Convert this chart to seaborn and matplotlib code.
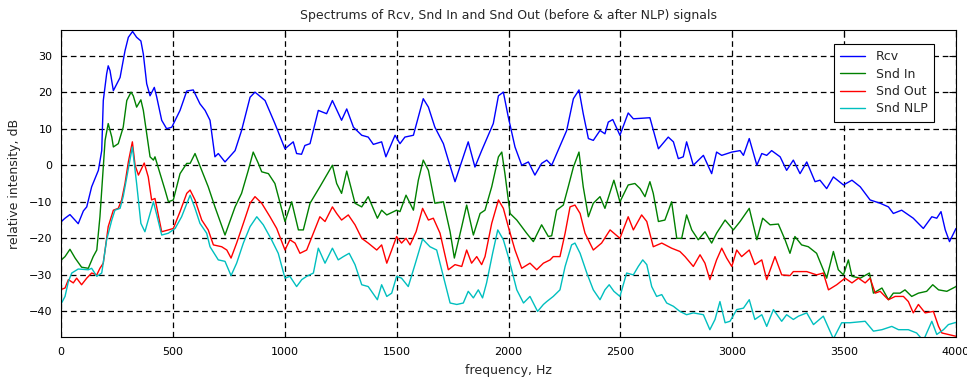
import numpy as np
import pandas as pd
import matplotlib
matplotlib.use("Agg")
import matplotlib.pyplot as plt
import seaborn as sns

# ---- spectra (frequency in Hz, level in dB) ----
rcv_freq = [0, 18, 40, 77, 100, 115, 137, 167, 182, 189, 204, 211, 219, 234, 264, 286, 301, 320, 338, 357,
            368, 383, 398, 417, 428, 450, 472, 495, 532, 562, 591, 621, 644, 666, 688, 703, 733, 778, 807, 845,
            867, 912, 956, 1001, 1038, 1053, 1075, 1090, 1113, 1150, 1187, 1213, 1254, 1277, 1307, 1344, 1373,
            1396, 1433, 1452, 1493, 1515, 1537, 1575, 1619, 1642, 1671, 1709, 1731, 1761, 1798, 1820, 1850, 1880,
            1932, 1955, 1977, 1999, 2029, 2059, 2089, 2118, 2148, 2171, 2193, 2260, 2290, 2315, 2334, 2357, 2379,
            2409, 2431, 2446, 2466, 2498, 2535, 2558, 2632, 2670, 2714, 2737, 2759, 2781, 2796, 2826, 2871, 2908,
            2930, 2953, 2998, 3035, 3050, 3076, 3110, 3132, 3154, 3176, 3214, 3243, 3273, 3303, 3333, 3370, 3392,
            3422, 3452, 3497, 3535, 3572, 3616, 3661, 3698, 3720, 3757, 3809, 3854, 3892, 3914, 3933, 3952, 3971,
            4000]
rcv_db = [-15.5, -14.5, -13.5, -16, -12.5, -11.4, -5.9, -1.4, 4, 17.7, 25, 27.2, 25.9, 20.4, 24, 31.3, 35, 36.6,
          35, 34, 30.4, 22.3, 19, 21.3, 18.6, 12.3, 10, 10.4, 15, 20.3, 20.6, 16.8, 15, 12.3, 2.3, 3.2, 0.9, 4,
          9.5, 18.6, 20, 17.7, 11.4, 4.5, 6.4, 3.2, 3, 5.4, 5.9, 15, 14.1, 17.7, 12.3, 15.4, 10.4, 8.2, 7.7, 5.7,
          6.4, 2.3, 8.2, 5.9, 7.7, 8.2, 18.2, 15.9, 10.4, 5.9, 1.4, -4.5, 2.3, 6.4, -0.5, 4, 11.4, 19, 20, 13.2,
          5, 0, 0.9, -2.7, 0.5, 1.4, 0, 9.5, 18.2, 20.6, 14.1, 7.3, 6.8, 9.5, 8.6, 11.8, 12.5, 8.2, 14.3, 12.7,
          13, 4.5, 7.7, 6.4, 1.8, 2.3, 6.4, 0, 2.7, -2.3, 3.6, 2.7, 3.6, 4, 2.7, 7.3, 0, 3.2, 2.7, 4, 2.3, -1.4,
          1.4, -2.3, 0.9, -4.5, -4.1, -6.4, -3.2, -5.4, -4.1, -5.9, -9.5, -10.4, -11.4, -13.2, -12.3, -14.5,
          -17.3, -14.1, -14.5, -12.7, -17.7, -20.9, -17.3]

snd_in_freq = [0, 18, 40, 63, 92, 122, 144, 160, 174, 189, 197, 211, 227, 234, 256, 278, 294, 313, 323, 338,
               357, 368, 383, 398, 413, 420, 465, 480, 502, 532, 562, 577, 599, 629, 658, 688, 733, 778, 807, 837,
               859, 882, 897, 927, 956, 1001, 1031, 1061, 1083, 1113, 1157, 1213, 1232, 1254, 1277, 1314, 1344,
               1373, 1414, 1433, 1456, 1500, 1515, 1542, 1575, 1597, 1619, 1642, 1671, 1709, 1739, 1758, 1791,
               1813, 1843, 1873, 1895, 1925, 1955, 1970, 1984, 2007, 2037, 2081, 2111, 2148, 2178, 2193, 2215,
               2245, 2267, 2290, 2315, 2334, 2357, 2379, 2409, 2431, 2471, 2498, 2535, 2565, 2588, 2610, 2632,
               2647, 2670, 2699, 2729, 2752, 2774, 2796, 2819, 2848, 2878, 2908, 2930, 2968, 3005, 3035, 3076,
               3110, 3136, 3169, 3206, 3236, 3258, 3280, 3310, 3340, 3377, 3407, 3422, 3452, 3474, 3497, 3519,
               3535, 3572, 3613, 3631, 3669, 3698, 3720, 3750, 3772, 3802, 3832, 3869, 3896, 3922, 3959, 4000]
snd_in_db = [-26, -25, -23, -25.4, -27.9, -28.2, -25, -23.2, -14.1, -0.5, 6.8, 11.4, 7.7, 5, 5.9, 10.4, 17.7,
             20, 19, 15.9, 17.9, 15, 8.6, 2.3, 1.4, 2.3, -6.8, -10, -9.5, -2.3, 0.5, 0.5, 3.2, -1.4, -5.9, -11.4,
             -19.1, -11.4, -7.7, -1.4, 3.6, 0.5, -1.8, -2.3, -5, -15.4, -10, -17.7, -17.7, -10.4, -5.9, 0, -5,
             -7.7, -1.6, -10.4, -11.4, -8.6, -14.5, -12.3, -13.6, -12.3, -12.7, -8.2, -12.3, -4.1, 1.4, -1.4,
             -10.4, -10, -18.2, -25.4, -16.8, -10.9, -19.1, -13.2, -12.3, -5.9, 2.3, 3.6, -2.3, -13.2, -15,
             -18.6, -20.9, -16.3, -19.5, -19.3, -12.3, -10.9, -5.9, -0.5, 3.6, -5.9, -14.1, -10.4, -8.6, -11.8,
             -4.1, -10, -5.4, -5, -6.4, -8.6, -4.5, -7.7, -15.4, -15, -10, -20, -20, -13.6, -17.7, -20.4, -18.2,
             -21.3, -18.6, -15, -17.7, -15.4, -11.8, -20.4, -14.5, -16.3, -16.1, -20.4, -24.1, -19.5, -21.8,
             -22.3, -24.1, -28.6, -30.9, -23.6, -28.6, -30, -25.9, -30.4, -30.9, -29.5, -35, -33.6, -36.8, -35,
             -35, -34.1, -35.9, -35, -34.5, -32.7, -34.1, -34.5, -33.2]

snd_out_freq = [0, 18, 33, 55, 70, 92, 115, 137, 160, 174, 189, 211, 234, 256, 271, 286, 301, 319, 331, 346,
                372, 390, 405, 420, 450, 480, 502, 532, 562, 577, 599, 629, 658, 681, 718, 741, 760, 785, 815,
                845, 867, 897, 934, 964, 1001, 1023, 1046, 1068, 1098, 1128, 1157, 1180, 1213, 1232, 1254, 1284,
                1314, 1344, 1373, 1411, 1433, 1456, 1478, 1500, 1522, 1542, 1560, 1587, 1616, 1642, 1664, 1694,
                1731, 1761, 1791, 1813, 1835, 1858, 1880, 1895, 1925, 1955, 1977, 1999, 2029, 2059, 2096, 2126,
                2156, 2186, 2200, 2230, 2253, 2275, 2297, 2320, 2342, 2379, 2416, 2454, 2498, 2535, 2558, 2595,
                2618, 2647, 2685, 2729, 2766, 2789, 2826, 2856, 2878, 2900, 2930, 2953, 2975, 2998, 3020, 3042,
                3076, 3101, 3132, 3154, 3191, 3221, 3258, 3273, 3333, 3377, 3407, 3430, 3467, 3504, 3535, 3564,
                3594, 3616, 3639, 3661, 3683, 3698, 3728, 3765, 3787, 3809, 3832, 3862, 3899, 3922, 3937, 3966,
                4000]
snd_out_db = [-34, -33.6, -31.3, -32.2, -30.9, -32.7, -30.9, -29.5, -30, -28.2, -26.8, -16.8, -12.3, -11.8,
              -9.5, -5, 0.9, 6.4, 0, -2.7, 0.6, -3.2, -9.5, -9.1, -18.2, -17.7, -17.3, -12.7, -7.7, -6.8, -9.5,
              -15, -17.7, -21.8, -22.3, -23.2, -25.4, -21.3, -15.9, -10.4, -8.6, -10.4, -14.1, -17.3, -23.2,
              -20.4, -21.3, -24.1, -23.2, -18.6, -14.1, -15.4, -11.4, -13.2, -15, -13.6, -16.3, -20, -21.3,
              -23.2, -21.8, -26.8, -23.2, -19.5, -21.3, -20, -21.8, -18.2, -11.8, -15, -14.5, -18.6, -28.6,
              -27.2, -27.7, -23.2, -26.8, -25, -27.2, -25, -15.9, -9.5, -11.8, -16.8, -23.2, -28.2, -26.8,
              -28.6, -26.8, -25.9, -25, -25, -18.6, -11.4, -10.9, -13.2, -18.6, -23.2, -21.3, -17.7, -20, -14.1,
              -17.7, -13.6, -15.4, -22.3, -21.3, -22.7, -23.6, -25, -27.7, -24.5, -26.8, -31.3, -25.9, -22.7,
              -25.4, -27.7, -23.2, -25, -23.2, -27.2, -25.9, -31.3, -25, -30, -30.2, -29.1, -29.1, -30, -29.5,
              -34.1, -32.7, -30.9, -32.2, -30.9, -32.2, -30.9, -35, -34.5, -35.9, -36.8, -35.9, -35.9, -37.3,
              -40.4, -38.1, -40.4, -40, -44.1, -45.9, -46.3, -46.8]

snd_nlp_freq = [0, 18, 33, 48, 77, 122, 137, 160, 182, 204, 227, 241, 264, 278, 294, 308, 319, 338, 357, 375,
                398, 413, 428, 450, 480, 510, 539, 577, 599, 621, 651, 666, 703, 733, 760, 785, 815, 845, 875,
                904, 941, 971, 1001, 1023, 1053, 1076, 1098, 1128, 1150, 1180, 1213, 1239, 1262, 1288, 1314,
                1344, 1373, 1414, 1433, 1456, 1478, 1500, 1522, 1552, 1582, 1616, 1649, 1679, 1709, 1739, 1769,
                1798, 1820, 1843, 1865, 1884, 1902, 1929, 1952, 1977, 1999, 2037, 2067, 2096, 2130, 2156, 2171,
                2200, 2230, 2253, 2282, 2297, 2320, 2350, 2379, 2409, 2431, 2450, 2471, 2498, 2528, 2558, 2580,
                2600, 2618, 2640, 2662, 2685, 2707, 2737, 2766, 2796, 2826, 2871, 2900, 2923, 2945, 2968, 2990,
                3020, 3050, 3076, 3101, 3132, 3154, 3184, 3221, 3243, 3273, 3296, 3333, 3363, 3407, 3452, 3489,
                3526, 3594, 3631, 3669, 3713, 3743, 3787, 3824, 3854, 3892, 3914, 3944, 3966, 4000]
snd_nlp_db = [-38, -35.9, -31.8, -29.5, -28.4, -28.6, -28.2, -30.4, -29.5, -20.4, -15, -12.3, -11.8, -8.6,
              -3.2, 1.4, 5, -5, -15.9, -18.2, -13.2, -10, -13.6, -19.1, -18.6, -17.3, -14.1, -8.2, -11.8, -15.9,
              -18.6, -22.3, -25.9, -26.3, -30.2, -26.8, -21.3, -16.8, -14.1, -16.3, -20.4, -24.1, -30.9, -30.4,
              -33.2, -31.3, -30.4, -29.5, -22.7, -26.8, -22.7, -25.9, -25, -24.1, -27.2, -32.7, -33.2, -36.8,
              -32.7, -35.9, -35, -30.4, -30.9, -33.2, -27.2, -20.2, -22.3, -23.2, -30.4, -37.7, -38.1, -37.7,
              -34.5, -36.3, -34.1, -36.3, -32.2, -24.1, -17.7, -20.4, -25, -34.1, -37.7, -35.9, -40, -38.1,
              -37.3, -35.9, -34.1, -27.7, -21.8, -21.3, -24.1, -29.5, -34.1, -36.8, -34.1, -32.7, -34.5, -35.9,
              -29.5, -30, -27.7, -25.9, -27.2, -33.2, -35.9, -35.4, -37.7, -38.6, -40, -40.9, -40.4, -40.9, -45,
              -42.2, -37.3, -43.1, -42.7, -39.5, -39.1, -36.8, -42.2, -40.9, -44.1, -39.5, -42.7, -40.9, -42.2,
              -41.3, -40.4, -43.6, -41.3, -47.5, -43.1, -43.1, -42.7, -45.4, -45, -44.1, -45, -45, -45.9, -48,
              -42.7, -46.3, -45, -43.6, -43]

series_names = ["Rcv", "Snd In", "Snd Out", "Snd NLP"]
series_colors = ["#0000ff", "#008000", "#ff0000", "#00bfbf"]
x_ticks = [0, 500, 1000, 1500, 2000, 2500, 3000, 3500, 4000]
y_ticks = [-40, -30, -20, -10, 0, 10, 20, 30]

frames = []
for name, f, v in zip(series_names,
                      [rcv_freq, snd_in_freq, snd_out_freq, snd_nlp_freq],
                      [rcv_db, snd_in_db, snd_out_db, snd_nlp_db]):
    frames.append(pd.DataFrame({"frequency": f, "level": v, "signal": name}))
spectra = pd.concat(frames, ignore_index=True)

sns.set_style("white")
plt.rcParams["font.family"] = ["DejaVu Sans"]
plt.rcParams["font.size"] = 8

fig = plt.figure(figsize=(9.67, 3.83), dpi=100)
ax = fig.add_axes([61 / 967, 1 - 337 / 383, 895 / 967, 307 / 383])

sns.lineplot(data=spectra, x="frequency", y="level", hue="signal",
             hue_order=series_names, palette=series_colors,
             estimator=None, sort=False, linewidth=1.0, ax=ax, legend=False)

ax.set_xlim(0, 4000)
ax.set_ylim(-47, 37)
ax.set_xticks(x_ticks)
ax.set_yticks(y_ticks)
ax.grid(True, color="black", linestyle=(0, (4.5, 3)), linewidth=0.9)
ax.set_axisbelow(True)
for sp in ax.spines.values():
    sp.set_color("black")
    sp.set_linewidth(0.8)
    sp.set_visible(True)
ax.tick_params(direction="in", length=5, width=0.8, top=True, right=True,
               labelsize=8, colors="black")
ax.tick_params(axis="y", pad=6)
ax.tick_params(axis="x", pad=7)

ax.set_xlabel("frequency, Hz", fontsize=9, labelpad=5)
ax.set_ylabel("relative intensity, dB", fontsize=9, labelpad=6)
ax.set_title("Spectrums of Rcv, Snd In and Snd Out (before & after NLP) signals",
             fontsize=9, pad=8)

handles = [plt.Line2D([], [], color=c, linewidth=1.0) for c in series_colors]
leg = ax.legend(handles, series_names, loc="upper right",
                bbox_to_anchor=(873 / 895, 293 / 307), borderaxespad=0,
                frameon=True, fancybox=False, edgecolor="black", framealpha=1,
                handlelength=2.0, handletextpad=0.9, labelspacing=0.35,
                borderpad=0.5, fontsize=9)
leg.get_frame().set_linewidth(0.8)

fig.savefig("out.png", dpi=100)
